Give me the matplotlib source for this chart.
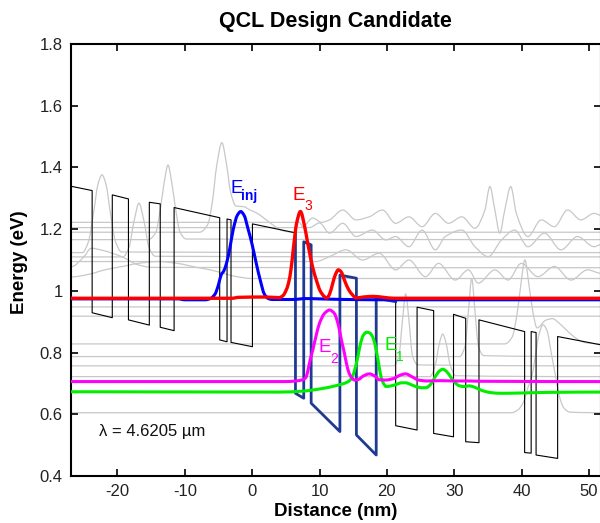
import matplotlib
matplotlib.use("Agg")
import matplotlib.pyplot as plt
import numpy as np
from matplotlib.path import Path
from matplotlib.patches import PathPatch

plt.rcParams['font.family'] = ['Liberation Sans', 'DejaVu Sans']

XL, XR = -26.9, 51.8

# ---------------- conduction band profile (nm, eV) ----------------
band_left_x = [XL, -23.76, -23.76, -20.77, -20.77, -18.37, -18.37, -15.27, -15.27,
               -13.65, -13.65, -11.59, -11.59, -4.82, -4.82, -3.73, -3.73, -3.14,
               -3.14, 0.04, 0.04, 6.43]
band_left_e = [1.339, 1.325, 0.929, 0.913, 1.311, 1.298, 0.906, 0.889, 1.287,
               1.282, 0.882, 0.871, 1.270, 1.237, 0.841, 0.835, 1.233, 1.230,
               0.833, 0.819, 1.217, 1.188]

active_x = [6.43, 6.43, 7.66, 7.66, 8.76, 8.76, 13.03, 13.03, 15.48, 15.48,
            18.42, 18.42, 21.31]
active_e = [1.188, 0.668, 0.652, 1.159, 1.149, 0.636, 0.544, 1.051, 1.041,
            0.533, 0.468, 0.976, 0.965]

band_right_x = [21.31, 21.31, 24.49, 24.49, 26.95, 26.95, 29.90, 29.90, 31.71,
                31.71, 33.68, 33.68, 40.46, 40.46, 41.43, 41.43, 42.16, 42.16,
                45.36, 45.36, XR]
band_right_e = [0.965, 0.563, 0.549, 0.947, 0.936, 0.538, 0.527, 0.924, 0.911,
                0.511, 0.508, 0.906, 0.868, 0.476, 0.474, 0.868, 0.865, 0.468,
                0.457, 0.852, 0.825]

# ---------------- highlighted states (level + |psi|^2) ----------------
einj_x = [XL, -11.0, -10.0, -7.0, -6.2, -5.5, -5.0, -4.6, -4.2, -3.8, -3.3, -2.8,
          -2.2, -1.7, -1.2, -0.6, 0.0, 0.6, 1.2, 1.8, 2.4, 3.0, 6.0, 8.0, 10.0,
          14.0, 21.3, XR]
einj_e = [0.974, 0.974, 0.971, 0.971, 0.975, 0.99, 1.02, 1.052, 1.065, 1.09,
          1.14, 1.20, 1.245, 1.257, 1.245, 1.20, 1.15, 1.09, 1.035, 0.99, 0.975,
          0.972, 0.972, 0.975, 0.974, 0.972, 0.971, 0.971]

e3_x = [XL, -3.0, -2.0, 2.0, 4.0, 4.6, 5.0, 5.4, 5.8, 6.1, 6.6, 7.17, 7.8, 8.2,
        8.54, 9.0, 9.53, 10.1, 10.75, 11.1, 11.5, 11.97, 12.4, 12.8, 13.2, 13.7,
        14.3, 14.9, 15.4, 16.5, 18.0, 19.5, 21.0, XR]
e3_e = [0.976, 0.976, 0.979, 0.980, 0.978, 0.985, 1.000, 1.025, 1.075, 1.133,
        1.219, 1.257, 1.208, 1.160, 1.122, 1.075, 1.035, 1.000, 0.981, 0.977,
        0.990, 1.025, 1.055, 1.068, 1.062, 1.035, 1.005, 0.987, 0.977, 0.980,
        0.982, 0.979, 0.976, 0.976]

e2_x = [XL, 5.0, 6.5, 7.5, 8.0, 8.3, 8.6, 9.0, 9.5, 10.0, 10.75, 11.5, 12.2,
        12.6, 12.96, 13.3, 13.7, 14.0, 14.4, 14.8, 15.2, 15.8, 16.5, 17.4, 18.2,
        18.85, 19.8, 21.0, 22.0, 22.8, 23.7, 24.7, 26.0, 28.0, 30.0, 32.0, 34.0, XR]
e2_e = [0.706, 0.706, 0.708, 0.712, 0.720, 0.744, 0.775, 0.808, 0.855, 0.895,
        0.927, 0.938, 0.927, 0.905, 0.873, 0.836, 0.798, 0.765, 0.733, 0.718,
        0.711, 0.713, 0.724, 0.731, 0.724, 0.712, 0.711, 0.716, 0.727, 0.731,
        0.722, 0.711, 0.708, 0.709, 0.708, 0.708, 0.707, 0.706]

e1_x = [XL, 4.0, 7.5, 10.0, 12.5, 14.0, 14.6, 15.0, 15.3, 15.7, 16.1, 16.5, 17.0,
        17.5, 18.0, 18.4, 18.7, 19.1, 19.5, 19.9, 20.6, 21.3, 22.2, 22.8, 23.6,
        24.3, 25.2, 25.8, 26.5, 27.2, 27.8, 28.3, 28.9, 29.5, 30.1, 30.8, 31.5,
        32.2, 33.0, 33.8, 34.6, 35.5, 37.0, 40.0, 44.0, XR]
e1_e = [0.673, 0.672, 0.675, 0.682, 0.693, 0.703, 0.712, 0.728, 0.750, 0.787,
        0.830, 0.856, 0.866, 0.863, 0.845, 0.810, 0.775, 0.725, 0.700, 0.690,
        0.692, 0.696, 0.702, 0.702, 0.696, 0.690, 0.686, 0.686, 0.697, 0.722,
        0.740, 0.746, 0.738, 0.720, 0.703, 0.692, 0.690, 0.692, 0.688, 0.680,
        0.674, 0.670, 0.668, 0.669, 0.671, 0.672]

# ---------------- other computed states (gray) ----------------
gray01 = [(XL, 1.222), (7.0, 1.222), (7.5, 1.208), (9.0, 1.236), (10.3, 1.222),
          (11.49, 1.23), (13.45, 1.262), (15.42, 1.23), (17.38, 1.24), (19.34, 1.262),
          (21.31, 1.219), (23.27, 1.24), (25.24, 1.208), (27.2, 1.251), (29.16, 1.219),
          (31.13, 1.24), (33.09, 1.203), (34.56, 1.262), (35.3, 1.338), (36.04, 1.262),
          (36.77, 1.187), (37.51, 1.262), (38.4, 1.338), (39.23, 1.251), (40.95, 1.176),
          (42.92, 1.23), (44.88, 1.208), (46.84, 1.262), (48.81, 1.23), (50.77, 1.251),
          (XR, 1.245)]
gray02 = [(XL, 1.205), (8.5, 1.205), (10.0, 1.22), (11.49, 1.187), (13.45, 1.219),
          (15.42, 1.176), (17.87, 1.197), (19.83, 1.165), (21.31, 1.176), (23.27, 1.143),
          (25.24, 1.197), (27.2, 1.133), (28.67, 1.176), (31.13, 1.197), (33.09, 1.143),
          (35.05, 1.111), (37.02, 1.165), (38.98, 1.197), (40.95, 1.143), (43.4, 1.187),
          (45.86, 1.133), (48.32, 1.176), (50.77, 1.143), (XR, 1.15)]
gray03 = [(XL, 1.19), (-7.8, 1.19), (-6.6, 1.215), (-5.9, 1.29), (-5.3, 1.40),
          (-4.5, 1.48), (-3.8, 1.41), (-3.2, 1.32), (-2.4, 1.275), (-1.3, 1.273),
          (-0.3, 1.262), (0.7, 1.252), (1.8, 1.235), (3.0, 1.215), (4.5, 1.195),
          (6.0, 1.19), (XR, 1.19)]
gray04 = [(XL, 1.166), (-15.4, 1.166), (-14.3, 1.19), (-13.6, 1.27), (-13.0, 1.36),
          (-12.5, 1.408), (-12.0, 1.36), (-11.4, 1.27), (-10.7, 1.19), (-9.8, 1.168),
          (XR, 1.166)]
gray05 = [(XL, 1.124), (-25.2, 1.124), (-24.3, 1.16), (-23.5, 1.26), (-22.9, 1.345),
          (-22.3, 1.376), (-21.7, 1.345), (-21.1, 1.26), (-20.3, 1.16), (-19.4, 1.126),
          (XR, 1.124)]
gray06 = [(XL, 1.11), (-19.2, 1.11), (-18.3, 1.14), (-17.5, 1.23), (-16.8, 1.284),
          (-16.1, 1.23), (-15.3, 1.14), (-14.4, 1.112), (XR, 1.11)]
gray07 = [(XL, 1.095), (9.5, 1.095), (11.49, 1.111), (13.94, 1.133), (16.4, 1.10),
          (18.85, 1.122), (21.31, 1.068), (23.27, 1.10), (25.73, 1.046), (27.69, 1.089),
          (30.15, 1.035), (32.11, 1.068), (33.58, 1.025), (36.04, 1.068), (38.0, 1.035),
          (39.97, 1.089), (42.43, 1.046), (44.88, 1.079), (47.34, 1.035), (49.8, 1.068),
          (XR, 1.057)]
gray08 = [(XL, 1.078), (-25.0, 1.11), (-23.9, 1.138), (-22.0, 1.13), (-19.4, 1.111),
          (-17.0, 1.085), (-15.0, 1.076), (XR, 1.075)]
gray09 = [(XL, 1.045), (-24.0, 1.055), (-21.9, 1.068), (-19.0, 1.08), (-17.0, 1.089),
          (-14.0, 1.095), (-11.1, 1.089), (-8.0, 1.075), (-6.2, 1.068), (-4.0, 1.055),
          (-2.3, 1.046), (0.0, 1.040), (XR, 1.040)]
gray10 = [(XL, 0.948), (XR, 0.948)]
gray11 = [(XL, 0.918), (XR, 0.918)]
gray12 = [(XL, 0.828), (37.5, 0.828), (38.6, 0.85), (39.3, 0.92), (39.9, 1.02),
          (40.5, 1.10), (41.1, 1.02), (41.7, 0.93), (42.3, 0.88), (43.6, 0.905),
          (44.6, 0.91), (45.6, 0.895), (46.8, 0.87), (48.2, 0.845), (49.5, 0.832),
          (XR, 0.828)]
gray13 = [(XL, 0.787), (30.8, 0.787), (31.6, 0.82), (32.1, 0.93), (32.6, 1.04),
          (33.1, 0.93), (33.6, 0.82), (34.4, 0.79), (XR, 0.787)]
gray14 = [(XL, 0.757), (21.0, 0.757), (21.8, 0.79), (22.3, 0.90), (22.8, 0.99),
          (23.3, 0.90), (23.8, 0.79), (24.6, 0.76), (XR, 0.757)]
gray15 = [(XL, 0.722), (26.4, 0.722), (27.2, 0.76), (27.8, 0.83), (28.3, 0.86),
          (28.8, 0.83), (29.4, 0.76), (30.2, 0.725), (XR, 0.722)]
gray16 = [(XL, 0.605), (38.5, 0.605), (39.5, 0.615), (40.3, 0.64), (41.0, 0.69),
          (41.5, 0.72), (42.0, 0.78), (42.6, 0.86), (43.2, 0.89), (43.8, 0.87),
          (44.4, 0.80), (45.0, 0.73), (45.6, 0.66), (46.3, 0.62), (47.2, 0.607),
          (XR, 0.605)]
gray_states = [gray01, gray02, gray03, gray04, gray05, gray06, gray07, gray08,
               gray09, gray10, gray11, gray12, gray13, gray14, gray15, gray16]

x_ticks = [-20, -10, 0, 10, 20, 30, 40, 50]
x_tick_labels = ['-20', '-10', '0', '10', '20', '30', '40', '50']
y_ticks = [0.4, 0.6, 0.8, 1.0, 1.2, 1.4, 1.6, 1.8]
y_tick_labels = ['0.4', '0.6', '0.8', '1', '1.2', '1.4', '1.6', '1.8']


def smooth_path(xs, ys):
    """Monotone cubic (PCHIP-style) Bezier path through the read points."""
    x = np.asarray(xs, float)
    y = np.asarray(ys, float)
    h = np.diff(x)
    d = np.diff(y) / h
    m = np.zeros_like(y)
    for k in range(1, len(x) - 1):
        if d[k - 1] * d[k] > 0:
            w1 = 2 * h[k] + h[k - 1]
            w2 = h[k] + 2 * h[k - 1]
            m[k] = (w1 + w2) / (w1 / d[k - 1] + w2 / d[k])
    verts = [(x[0], y[0])]
    codes = [Path.MOVETO]
    for k in range(len(x) - 1):
        verts += [(x[k] + h[k] / 3, y[k] + m[k] * h[k] / 3),
                  (x[k + 1] - h[k] / 3, y[k + 1] - m[k + 1] * h[k] / 3),
                  (x[k + 1], y[k + 1])]
        codes += [Path.CURVE4] * 3
    return Path(verts, codes)


def draw_curve(ax, xs, ys, **kw):
    ax.add_patch(PathPatch(smooth_path(xs, ys), fill=False, **kw))


# ---------------- figure ----------------
fig = plt.figure(figsize=(6.0, 5.23), dpi=100)
ax = fig.add_axes([71 / 600, 47 / 523, 530 / 600, 432 / 523])

for st in gray_states:
    draw_curve(ax, [p[0] for p in st], [p[1] for p in st], edgecolor='#c8c8c8',
               lw=0.9, zorder=1)

ax.plot(band_left_x, band_left_e, color='black', lw=0.8, zorder=2)
ax.plot(band_right_x, band_right_e, color='black', lw=0.8, zorder=2)
ax.plot(active_x, active_e, color='#1f3a93', lw=2.0, zorder=3)

draw_curve(ax, e1_x, e1_e, edgecolor='#00ee00', lw=2.2, zorder=4)
draw_curve(ax, e2_x, e2_e, edgecolor='#ff00ff', lw=2.2, zorder=5)
draw_curve(ax, einj_x, einj_e, edgecolor='#0000ff', lw=2.2, zorder=6)
draw_curve(ax, e3_x, e3_e, edgecolor='#ff0000', lw=2.4, zorder=7)

# state labels
ax.text(-3.25, 1.318, 'E', color='#0000ff', fontsize=13.5, zorder=8)
ax.text(-1.6, 1.296, 'inj', color='#0000ff', fontsize=10, fontweight='bold', zorder=8)
ax.text(6.0, 1.294, 'E', color='#ff0000', fontsize=13.5, zorder=8)
ax.text(7.75, 1.262, '3', color='#ff0000', fontsize=10, zorder=8)
ax.text(9.9, 0.803, 'E', color='#ff00ff', fontsize=13.5, zorder=8)
ax.text(11.65, 0.767, '2', color='#ff00ff', fontsize=10, zorder=8)
ax.text(19.6, 0.808, 'E', color='#00ee00', fontsize=13.5, zorder=8)
ax.text(21.35, 0.774, '1', color='#00ee00', fontsize=10, zorder=8)

ax.text(-22.7, 0.544, '\u03bb = 4.6205 \u00b5m', fontsize=12, va='center',
        color='#111111', zorder=8)

ax.set_xlim(XL, XR)
ax.set_ylim(0.4, 1.8)
ax.set_xticks(x_ticks)
ax.set_xticklabels(x_tick_labels)
ax.set_yticks(y_ticks)
ax.set_yticklabels(y_tick_labels)
ax.tick_params(direction='in', length=5, width=1.2, labelsize=12,
               top=True, right=True, pad=6, labelcolor='#222222')
for side in ['left', 'bottom', 'top', 'right']:
    ax.spines[side].set_linewidth(1.5)

fig.text(335.5 / 600, 1 - 21 / 523, 'QCL Design Candidate', ha='center',
         va='center', fontsize=15.5, fontweight='bold')
fig.text(335.5 / 600, 1 - 512 / 523, 'Distance (nm)', ha='center', va='center',
         fontsize=13.5, fontweight='bold')
fig.text(20 / 600, 1 - 262 / 523, 'Energy (eV)', ha='center', va='center',
         rotation=90, fontsize=13.5, fontweight='bold')

fig.savefig('out.png', dpi=100)
